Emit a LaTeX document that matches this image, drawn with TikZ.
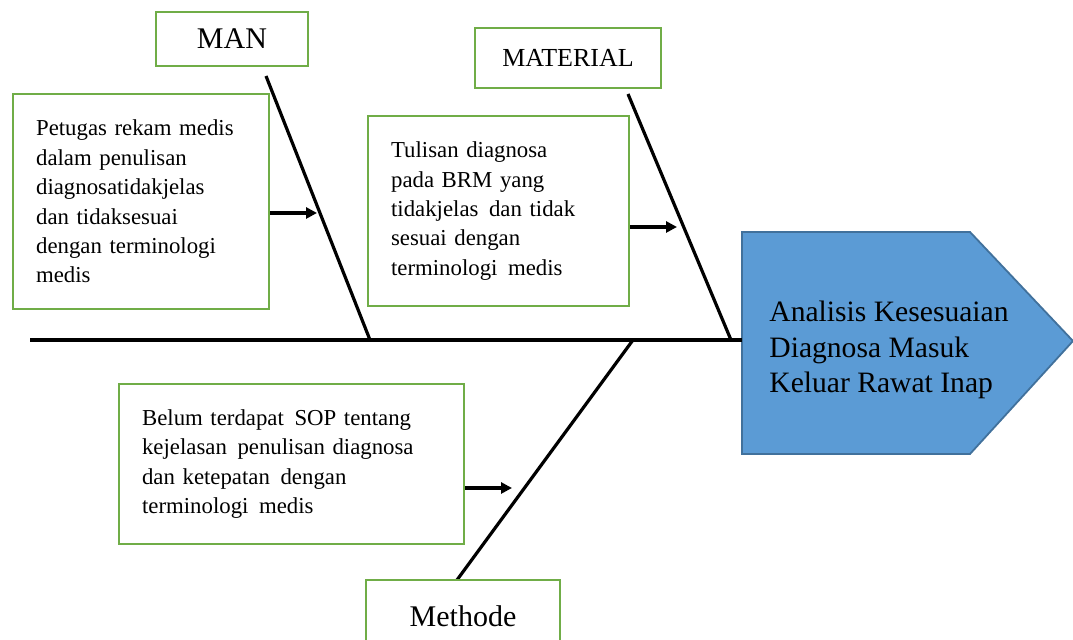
\documentclass[tikz,border=0pt]{standalone}
\usepackage{fontspec}
\setmainfont{Liberation Serif}
\usepackage{xcolor}
\definecolor{BoxGreen}{RGB}{112,173,71}
\definecolor{HeadBlue}{RGB}{91,155,213}
\definecolor{HeadEdge}{RGB}{65,113,156}
\usetikzlibrary{arrows.meta}

\newcommand{\wsp}{\ \hspace{1.5pt}}

\begin{document}
\begin{tikzpicture}[x=0.5pt,y=-0.5pt,
    catbox/.style={draw=BoxGreen,line width=1.1pt,fill=white,inner sep=0pt},
    causebox/.style={draw=BoxGreen,line width=1.1pt,fill=white,align=left,anchor=north west,
        inner xsep=11.5pt,font=\fontsize{11.4}{14.7}\selectfont},
    bone/.style={line width=1.6pt},
    hit/.style={line width=2pt,-{Triangle[length=5.5pt,width=5.5pt]}}]
    \useasboundingbox (0,0) rectangle (1073,640);
        % Head of the fish
        \draw[HeadEdge,fill=HeadBlue,line width=0.9pt]
            (742,232) -- (970,232) -- (1073,341) -- (970,454) -- (742,454) -- cycle;
        \coordinate (headwest) at (742,340);
        \node[anchor=west,align=left,inner sep=0pt,font=\fontsize{14.8}{17.8}\selectfont] (headtext) at (769,350)
            {Analisis Kesesuaian\\Diagnosa Masuk\\Keluar Rawat Inap};
        % Spine
        \coordinate (tail) at (30,340);
        \draw[bone] (tail) -- (headwest);
        % Bones
        \coordinate (mantop) at (266,76);
        \coordinate (manfoot) at (370,340);
        \coordinate (mattop) at (628,94);
        \coordinate (matfoot) at (731,340);
        \coordinate (methfoot) at (633,340);
        \coordinate (methend) at (457,580);
        \draw[bone] (mantop) -- (manfoot);
        \draw[bone] (mattop) -- (matfoot);
        \draw[bone] (methfoot) -- (methend);
        % Category boxes
        \node[catbox,minimum width=76pt,minimum height=27pt,font=\fontsize{15}{18}\selectfont]
            (man) at (232,39) {MAN};
        \node[catbox,minimum width=93pt,minimum height=30pt,font=\fontsize{13}{16}\selectfont]
            (material) at (568,58) {MATERIAL};
        \node[catbox,minimum width=97pt,minimum height=36pt,font=\fontsize{15}{18}\selectfont]
            (methode) at (463,616) {Methode};
        % Cause boxes
        \node[causebox,text width=105pt,minimum height=107.5pt] (cause1) at (12,93)
            {Petugas rekam medis\\dalam penulisan\\diagnosatidakjelas\\dan tidaksesuai\\dengan terminologi\\medis};
        \node[causebox,text width=107.5pt,minimum height=95pt] (cause2) at (367,115)
            {Tulisan diagnosa\\pada BRM yang\\tidakjelas\wsp dan tidak\\sesuai dengan\\terminologi\wsp medis};
        \node[causebox,text width=149.5pt,minimum height=80pt] (cause3) at (118,383)
            {Belum terdapat\wsp SOP tentang\\kejelasan\wsp penulisan diagnosa\\dan ketepatan\wsp dengan\\terminologi\wsp medis};
        % Arrows to the bones
        \coordinate (manhit) at (317,213);
        \coordinate (mathit) at (677,227);
        \coordinate (methhit) at (512,488);
        \draw[hit] (cause1.east |- manhit) -- (manhit);
        \draw[hit] (cause2.east |- mathit) -- (mathit);
        \draw[hit] (cause3.east |- methhit) -- (methhit);
    \end{tikzpicture}
\end{document}
